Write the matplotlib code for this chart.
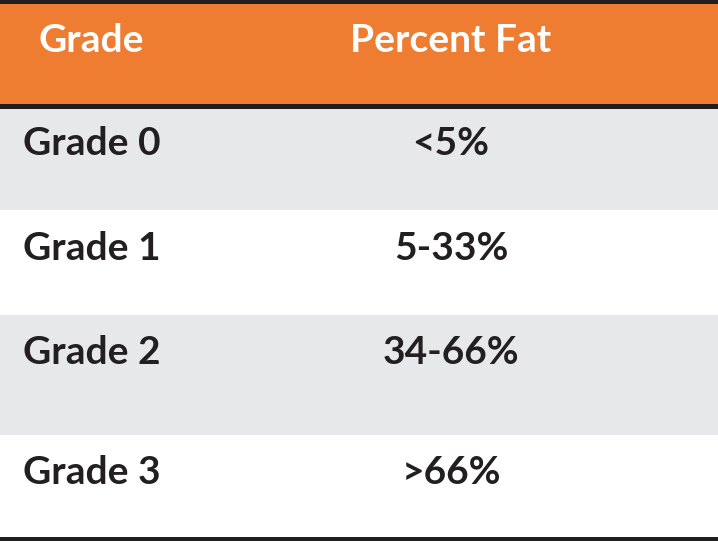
import matplotlib.pyplot as plt
from matplotlib.patches import Rectangle

# table content
headers = ["Grade", "Percent Fat"]
grades = ["Grade 0", "Grade 1", "Grade 2", "Grade 3"]
fat = ["<5%", "5-33%", "34-66%", ">66%"]

W, H = 718, 543
orange = "#EF7D31"
gray = "#E7E8EA"
dark = "#231F20"

# row edges in pixels (top to bottom)
row_top = [109, 210, 315, 435]
row_bot = [210, 315, 435, 537]
row_fill = [gray, "white", gray, "white"]
baselines = [155, 260, 364, 484]

fig = plt.figure(figsize=(W / 100, H / 100), dpi=100)
ax = fig.add_axes([0, 0, 1, 1])
ax.set_xlim(0, W)
ax.set_ylim(H, 0)
ax.axis("off")

font = dict(family=["Lato", "DejaVu Sans"], fontweight="bold", fontsize=28)

# header
ax.add_patch(Rectangle((0, 0), W, 4, color=dark, lw=0))
ax.add_patch(Rectangle((0, 4), W, 100, color=orange, lw=0))
ax.add_patch(Rectangle((0, 104), W, 5, color=dark, lw=0))
ax.text(91, 52, headers[0], color="white", ha="center", va="baseline", **font)
ax.text(451, 52, headers[1], color="white", ha="center", va="baseline", **font)

for i in range(len(grades)):
    ax.add_patch(Rectangle((0, row_top[i]), W, row_bot[i] - row_top[i],
                           color=row_fill[i], lw=0))
    ax.text(23, baselines[i], grades[i], color=dark, ha="left", va="baseline", **font)
    ax.text(451, baselines[i], fat[i], color=dark, ha="center", va="baseline", **font)

ax.add_patch(Rectangle((0, 537), W, 4, color=dark, lw=0))

fig.savefig("out.png", dpi=100)
